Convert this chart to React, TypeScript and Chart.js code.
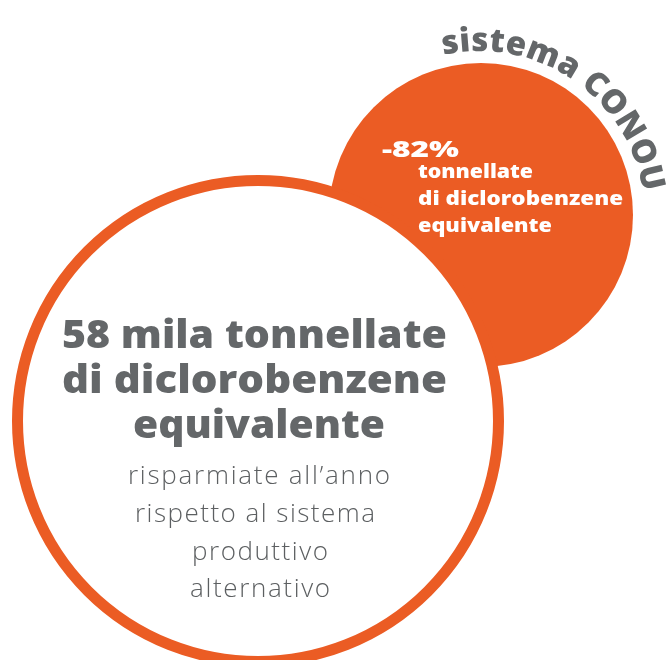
import { useEffect, useRef } from "react";
import { Chart, registerables } from "chart.js";

Chart.register(...registerables);

// ---- data ----
const categories = ["sistema produttivo alternativo", "sistema CONOU"];
const savedThousandTonnes = [58];
const reductionPercent = [-82];
const headlineLines = [`${savedThousandTonnes[0]} mila tonnellate`, "di diclorobenzene", "equivalente"];
const subLines = ["risparmiate all’anno", "rispetto al sistema", "produttivo", "alternativo"];
const badgeTitle = [`${reductionPercent[0]}%`];
const badgeLines = ["tonnellate", "di diclorobenzene", "equivalente"];
const arcTitle = ["sistema CONOU"];

// ---- layout / style ----
const W = 670;
const H = 660;
const ORANGE = "#EB5C24";
const GRAY = "#646769";
const SUBGRAY = "#5c5f61";
const BIG = { cx: 258, cy: 421, r: 240.5, border: 11 };
const SMALL = { cx: 481, cy: 215, r: 152 };

type Line = { text: string; left: number; width: number; y: number };

function fitText(ctx: CanvasRenderingContext2D, l: Line, font: string, color: string, mode: "scale" | "spacing") {
  ctx.save();
  ctx.font = font;
  ctx.fillStyle = color;
  ctx.textBaseline = "alphabetic";
  ctx.textAlign = "left";
  const natural = ctx.measureText(l.text).width;
  if (mode === "scale") {
    ctx.translate(l.left, l.y);
    ctx.scale(l.width / natural, 1);
    ctx.fillText(l.text, 0, 0);
  } else {
    const n = [...l.text].length;
    const sp = n > 1 ? (l.width - natural) / (n - 1) : 0;
    (ctx as any).letterSpacing = `${sp}px`;
    ctx.fillText(l.text, l.left, l.y);
    (ctx as any).letterSpacing = "0px";
  }
  ctx.restore();
}

function arcText(ctx: CanvasRenderingContext2D, text: string, cx: number, cy: number, R: number, centerDeg: number, arcLen: number, font: string, color: string) {
  ctx.save();
  ctx.font = font;
  ctx.fillStyle = color;
  ctx.textAlign = "center";
  ctx.textBaseline = "alphabetic";
  const chars = [...text];
  const widths = chars.map((c) => ctx.measureText(c).width);
  const natural = widths.reduce((a, b) => a + b, 0);
  const sp = (arcLen - natural) / (chars.length - 1);
  let a = (centerDeg * Math.PI) / 180 - arcLen / 2 / R;
  chars.forEach((c, i) => {
    const w = widths[i];
    const mid = a + w / 2 / R;
    ctx.save();
    ctx.translate(cx + R * Math.sin(mid), cy - R * Math.cos(mid));
    ctx.rotate(mid);
    ctx.fillText(c, 0, 0);
    ctx.restore();
    a += (w + sp) / R;
  });
  ctx.restore();
}

const textPlugin = {
  id: "infographicText",
  afterDatasetsDraw(chart: any) {
    const ctx: CanvasRenderingContext2D = chart.ctx;
    const xs = chart.scales.x;
    const ys = chart.scales.y;
    const scx = xs.getPixelForValue(SMALL.cx);
    const scy = ys.getPixelForValue(SMALL.cy);

    // curved title around the orange circle
    arcText(ctx, arcTitle[0], scx - 2, scy + 2, 166, 34.5, 272, "800 33px 'Open Sans'", GRAY);

    // badge text in orange circle
    fitText(ctx, { text: badgeTitle[0], left: 382, width: 77, y: 157 }, "800 23px 'Open Sans'", "#ffffff", "scale");
    const bl = [
      { left: 418, width: 115, y: 178 },
      { left: 418, width: 205, y: 205 },
      { left: 418, width: 134, y: 232 },
    ];
    badgeLines.forEach((t, i) => fitText(ctx, { text: t, ...bl[i] }, "800 20px 'Open Sans'", "#ffffff", "scale"));

    // headline in big circle
    const hl = [
      { left: 62, width: 385, y: 348 },
      { left: 62, width: 385, y: 393 },
      { left: 133, width: 252, y: 438 },
    ];
    headlineLines.forEach((t, i) => fitText(ctx, { text: t, ...hl[i] }, "800 39px 'Open Sans'", GRAY, "scale"));

    const sl = [
      { left: 128, width: 262, y: 484 },
      { left: 135, width: 240, y: 522 },
      { left: 192, width: 136, y: 560 },
      { left: 190, width: 140, y: 597 },
    ];
    subLines.forEach((t, i) => fitText(ctx, { text: t, ...sl[i] }, "300 26px 'Open Sans'", SUBGRAY, "spacing"));
  },
};

export default function App() {
  const ref = useRef<HTMLCanvasElement | null>(null);
  useEffect(() => {
    document.body.style.margin = "0";
    document.body.style.background = "#ffffff";
    const canvas = ref.current;
    if (!canvas) return;
    const chart = new Chart(canvas, {
      type: "bubble",
      data: {
        datasets: [
          {
            label: categories[0],
            data: [{ x: BIG.cx, y: BIG.cy, r: BIG.r }],
            backgroundColor: "#ffffff",
            borderColor: ORANGE,
            borderWidth: BIG.border,
            clip: false as any,
          },
          {
            label: categories[1],
            data: [{ x: SMALL.cx, y: SMALL.cy, r: SMALL.r }],
            backgroundColor: ORANGE,
            borderColor: ORANGE,
            borderWidth: 0,
            clip: false as any,
          },
        ],
      },
      options: {
        responsive: false,
        animation: false,
        events: [],
        layout: { padding: 0, autoPadding: false },
        scales: {
          x: { type: "linear", display: false, min: 0, max: W },
          y: { type: "linear", display: false, min: 0, max: H, reverse: true },
        },
        plugins: { legend: { display: false }, tooltip: { enabled: false } },
      },
      plugins: [textPlugin],
    });
    return () => chart.destroy();
  }, []);
  return (
    <div style={{ width: W, height: H, background: "#ffffff" }}>
      <canvas ref={ref} width={W} height={H} style={{ display: "block" }} />
    </div>
  );
}
